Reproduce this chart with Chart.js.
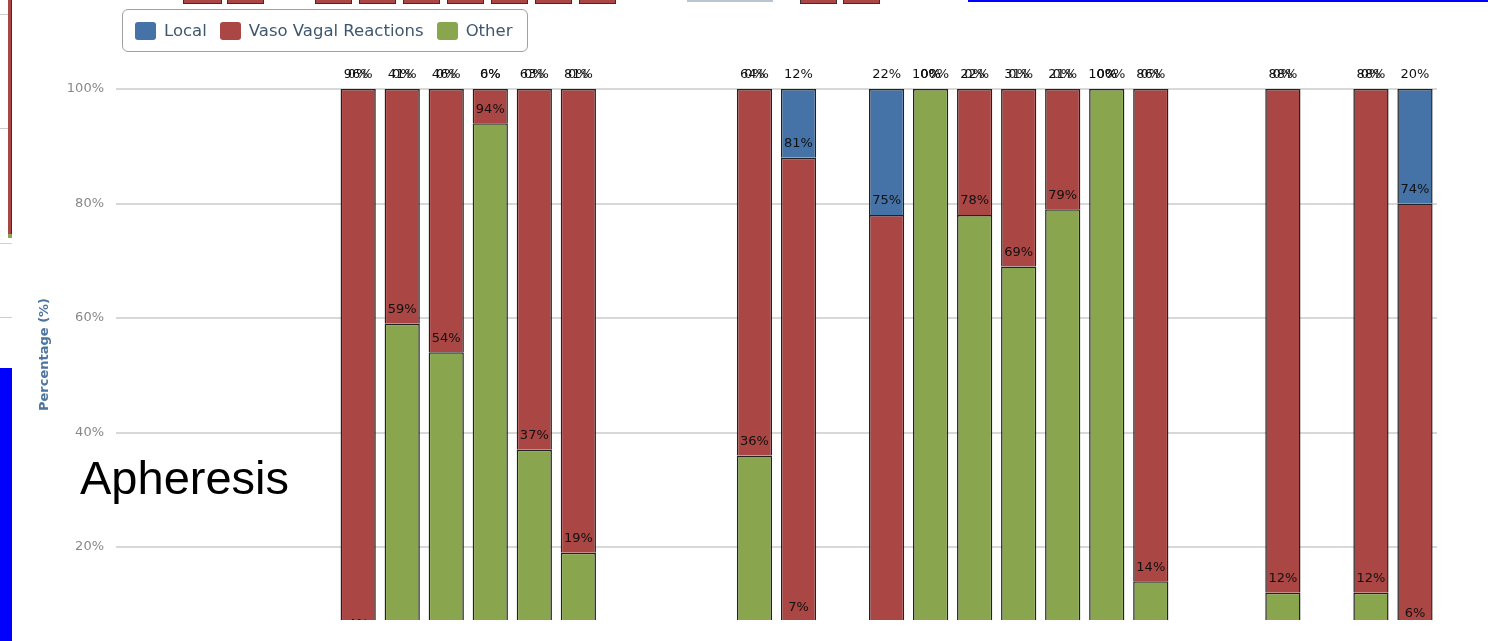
<!DOCTYPE html>
<html>
<head>
<meta charset="utf-8">
<script src="https://cdn.jsdelivr.net/npm/chart.js@4.4.0/dist/chart.umd.min.js"></script>
<style>
  html, body { margin: 0; padding: 0; background: #fff; overflow: hidden; }
  #wrap { position: relative; width: 1488px; height: 641px; }
  #chartBox { position: absolute; left: 0; top: 0; width: 1488px; height: 641px; }
  .deco { position: absolute; }
  #legend {
    position: absolute; left: 122px; top: 9px; width: 406px; height: 43px;
    border: 1px solid #a0a0a0; border-radius: 6px; box-sizing: border-box;
    font: 16.5px "DejaVu Sans", sans-serif; color: #3e576f;
    display: flex; align-items: center; padding-left: 12px;
  }
  #legend span.sw { display: inline-block; width: 21px; height: 18px; border-radius: 3px; margin-right: 8px; }
  #legend span.it { display: flex; align-items: center; margin-right: 13px; white-space: nowrap; }
  #title {
    position: absolute; left: 80px; top: 450px;
    font: 47px "Liberation Sans", Arial, sans-serif; color: #000;
  }
</style>
</head>
<body>
<div id="wrap">
  <!-- bits of the slide around the chart -->
  <div class="deco" style="left:8px;top:0;width:3px;height:236px;background:#aa4643;border-right:1px solid #333"></div>
  <div class="deco" style="left:8px;top:234px;width:4px;height:4px;background:#89a54e"></div>
  <div class="deco" style="left:0;top:14px;width:8px;height:1px;background:#ccc"></div>
  <div class="deco" style="left:0;top:128px;width:8px;height:1px;background:#ccc"></div>
  <div class="deco" style="left:0;top:317px;width:12px;height:1px;background:#ccc"></div>
  <div class="deco" style="left:0;top:243px;width:12px;height:1px;background:#c8d4e0"></div>
  <div class="deco" style="left:0;top:368px;width:12px;height:273px;background:#0000ff"></div>
  <div class="deco" style="left:968px;top:0;width:520px;height:2px;background:#0000ff"></div>
  <div class="deco" style="left:687px;top:0;width:86px;height:2px;background:#b8c4d0"></div>
  <div class="deco" style="left:183px;top:0;width:37px;height:3px;background:#aa4643;border:1px solid #333;border-top:0"></div>
  <div class="deco" style="left:227px;top:0;width:35px;height:3px;background:#aa4643;border:1px solid #333;border-top:0"></div>
  <div class="deco" style="left:315px;top:0;width:35px;height:3px;background:#aa4643;border:1px solid #333;border-top:0"></div>
  <div class="deco" style="left:359px;top:0;width:35px;height:3px;background:#aa4643;border:1px solid #333;border-top:0"></div>
  <div class="deco" style="left:403px;top:0;width:35px;height:3px;background:#aa4643;border:1px solid #333;border-top:0"></div>
  <div class="deco" style="left:447px;top:0;width:35px;height:3px;background:#aa4643;border:1px solid #333;border-top:0"></div>
  <div class="deco" style="left:491px;top:0;width:35px;height:3px;background:#aa4643;border:1px solid #333;border-top:0"></div>
  <div class="deco" style="left:535px;top:0;width:35px;height:3px;background:#aa4643;border:1px solid #333;border-top:0"></div>
  <div class="deco" style="left:579px;top:0;width:35px;height:3px;background:#aa4643;border:1px solid #333;border-top:0"></div>
  <div class="deco" style="left:800px;top:0;width:35px;height:3px;background:#aa4643;border:1px solid #333;border-top:0"></div>
  <div class="deco" style="left:843px;top:0;width:35px;height:3px;background:#aa4643;border:1px solid #333;border-top:0"></div>

  <div id="chartBox"><canvas id="myChart"></canvas></div>

  <div id="legend">
    <span class="it"><span class="sw" style="background:#4572a7"></span>Local</span>
    <span class="it"><span class="sw" style="background:#aa4643"></span>Vaso Vagal Reactions</span>
    <span class="it"><span class="sw" style="background:#89a54e"></span>Other</span>
  </div>
  <div id="title">Apheresis</div>
</div>

<script>
// 30 category slots, the names are cut off in the picture
var categories = ['', '', '', '', '', '', '', '', '', '',
                  '', '', '', '', '', '', '', '', '', '',
                  '', '', '', '', '', '', '', '', '', ''];

// percentages per category (null = empty slot)
var local = [null, null, null, null, null, 0, 0, 0, 0, 0,
             0, null, null, null, 0, 12, null, 22, 0, 0,
             0, 0, 0, 0, null, null, 0, null, 0, 20];
var vasoVagal = [null, null, null, null, null, 96, 41, 46, 6, 63,
                 81, null, null, null, 64, 81, null, 75, 0, 22,
                 31, 21, 0, 86, null, null, 88, null, 88, 74];
var other = [null, null, null, null, null, 4, 59, 54, 94, 37,
             19, null, null, null, 36, 7, null, 3, 100, 78,
             69, 79, 100, 14, null, null, 12, null, 12, 6];

var yTicks = [20, 40, 60, 80, 100];

// labels sit just above the top of each segment, like the original
var pctLabels = {
  id: 'pctLabels',
  afterDatasetsDraw: function(chart) {
    var ctx = chart.ctx, area = chart.chartArea;
    ctx.save();
    ctx.beginPath();
    ctx.rect(area.left, 0, area.right - area.left, area.bottom);
    ctx.clip();
    ctx.font = '13px "DejaVu Sans", sans-serif';
    ctx.fillStyle = '#111';
    ctx.textAlign = 'center';
    ctx.textBaseline = 'middle';
    chart.data.datasets.forEach(function(ds, i) {
      var meta = chart.getDatasetMeta(i);
      meta.data.forEach(function(bar, j) {
        var v = ds.data[j];
        if (v === null) return;
        ctx.fillText(v + '%', bar.x, bar.y - 14);
      });
    });
    ctx.restore();
  }
};

var chartdata = {
  labels: categories,
  datasets: [
    { label: 'Other', data: other, backgroundColor: '#89a54e' },
    { label: 'Vaso Vagal Reactions', data: vasoVagal, backgroundColor: '#aa4643' },
    { label: 'Local', data: local, backgroundColor: '#4572a7' }
  ]
};
chartdata.datasets.forEach(function(ds) {
  ds.borderColor = '#222';
  ds.borderWidth = 1.5;
  ds.barPercentage = 0.8;
  ds.categoryPercentage = 1.0;
});

var ctx = document.getElementById('myChart');
new Chart(ctx, {
  type: 'bar',
  data: chartdata,
  plugins: [pctLabels],
  options: {
    responsive: true,
    maintainAspectRatio: false,
    animation: false,
    layout: { padding: { left: 0, top: 89, right: 51, bottom: 21 } },
    plugins: { legend: { display: false }, tooltip: { enabled: false } },
    scales: {
      x: { stacked: true, display: false },
      y: {
        stacked: true,
        min: 7.25,
        max: 100,
        afterBuildTicks: function(scale) {
          scale.ticks = yTicks.map(function(v) { return { value: v }; });
        },
        afterFit: function(scale) { scale.width = 116; },
        border: { display: false },
        grid: { color: '#d8d8d8', lineWidth: 2, drawTicks: false },
        ticks: {
          padding: 12,
          color: '#888',
          font: { family: 'DejaVu Sans', size: 13 },
          callback: function(v) { return v + '%'; }
        },
        title: {
          display: true,
          text: 'Percentage (%)',
          color: '#4d759e',
          font: { family: 'DejaVu Sans', size: 13, weight: 'bold' },
          padding: { top: 37 }
        }
      }
    }
  }
});
</script>
</body>
</html>
